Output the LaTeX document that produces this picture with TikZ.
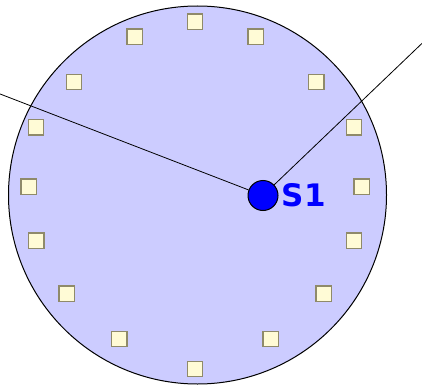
\documentclass[tikz,border=0pt]{standalone}
\usepackage{fontspec}
\newfontfamily\labelfont{DejaVu Sans}
\usepackage{xcolor}
\usepackage{tikz}
\usetikzlibrary{positioning}
\definecolor{zonefill}{HTML}{CCCCFF}
\definecolor{sensorfill}{HTML}{FFFBD6}
\definecolor{sensoredge}{HTML}{8F8A6A}
\definecolor{stationblue}{HTML}{0000FF}
\tikzset{
  zone/.style={draw=black, fill=zonefill, line width=1pt},
  sensor/.style={draw=sensoredge, fill=sensorfill, line width=1.2pt, minimum size=15.5pt, inner sep=0pt},
  station/.style={circle, draw=black, fill=stationblue, line width=1pt, minimum size=30pt, inner sep=0pt},
  stationlabel/.style={text=stationblue, inner sep=0pt, font=\labelfont\bfseries\fontsize{31}{31}\selectfont},
  ray/.style={black, line width=0.8pt}
}

\begin{document}
\begin{tikzpicture}[x=1pt, y=-1pt]
  \useasboundingbox (0,0) rectangle (422,385);
  \clip (0,0) rectangle (422,385);
  \draw[zone] (197.5,195) circle[radius=189pt];
  \foreach \x/\y [count=\i] in {195/21.7, 255.7/36.7, 316.3/82, 354/127.3, 361.7/186.7, 354/240.7, 323.7/293.7, 270.7/339, 195/369, 119.3/339, 66.7/293.7, 36.3/240.7, 28.7/186.7, 36/127.3, 74/82, 134.7/36.7}{
    \node[sensor] (sensor\i) at (\x,\y) {};
  }
  \node[station] (s1) at (263,195.5) {};
  \node[stationlabel, right=3pt of s1] (s1label) {S1};
  \coordinate (westend) at (-10,90.1);
  \coordinate (eastend) at (432,33.8);
  \draw[ray] (s1) -- (westend);
  \draw[ray] (s1) -- (eastend);
\end{tikzpicture}
\end{document}
